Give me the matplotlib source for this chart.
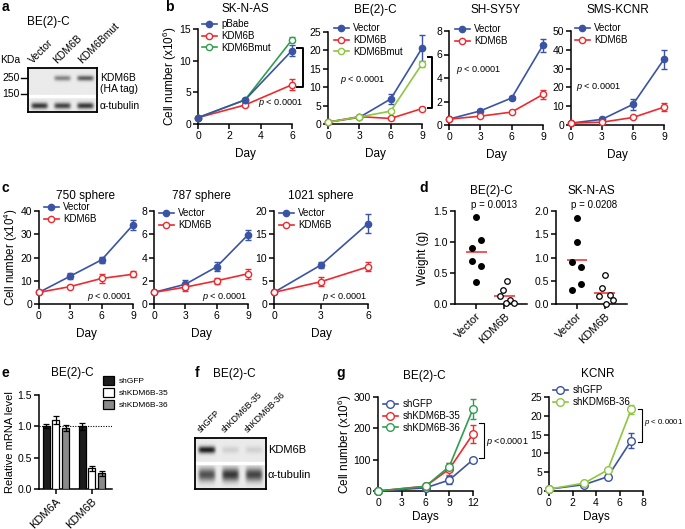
import matplotlib
matplotlib.use('Agg')
import matplotlib.pyplot as plt
import numpy as np
from matplotlib.ticker import FormatStrFormatter

plt.rcParams['font.family'] = ['Liberation Sans', 'DejaVu Sans']
plt.rcParams['mathtext.fontset'] = 'custom'
plt.rcParams['mathtext.rm'] = 'Liberation Sans'
plt.rcParams['mathtext.it'] = 'Liberation Sans:italic'
plt.rcParams['font.size'] = 7

W, H = 685, 529
BLUE = '#3a53a4'
RED = '#ee2a2e'
DKGREEN = '#2f9e4f'
LTGREEN = '#8dc63f'

# ---- panel a / f blots (band intensity per lane) ----
a_lanes = ['Vector', 'KDM6B', 'KDM6Bmut']
a_kdm6b_band = [0.0, 0.4, 0.55]
a_tubulin_band = [0.7, 0.65, 0.7]
f_lanes = ['shGFP', 'shKDM6B-35', 'shKDM6B-36']
f_kdm6b_band = [0.8, 0.1, 0.1]
f_tubulin_band = [0.6, 0.7, 0.65]

# ---- panel b ----
b1_day = [0, 3, 6]
b1_pbabe = [1.0, 3.8, 11.6]
b1_pbabe_err = [0.1, 0.2, 0.9]
b1_kdm6b = [1.0, 3.0, 6.2]
b1_kdm6b_err = [0.1, 0.2, 0.9]
b1_mut = [1.0, 3.8, 13.3]
b1_mut_err = [0.1, 0.2, 0.4]

b_day = [0, 3, 6, 9]
b2_vec = [0.5, 1.8, 6.8, 20.6]
b2_vec_err = [0.1, 0.3, 1.3, 3.6]
b2_kdm6b = [0.5, 2.0, 1.5, 4.2]
b2_kdm6b_err = [0.1, 0.2, 0.2, 0.3]
b2_mut = [0.5, 1.9, 3.5, 16.3]
b2_mut_err = [0.1, 0.2, 0.3, 0.9]

b3_vec = [0.5, 1.2, 2.3, 6.8]
b3_vec_err = [0.05, 0.08, 0.2, 0.55]
b3_kdm6b = [0.5, 0.75, 1.1, 2.6]
b3_kdm6b_err = [0.05, 0.05, 0.08, 0.35]

b4_vec = [1.0, 3.0, 11.0, 35.0]
b4_vec_err = [0.3, 0.5, 3.0, 5.0]
b4_kdm6b = [1.0, 1.5, 4.0, 9.5]
b4_kdm6b_err = [0.2, 0.3, 0.5, 2.0]

# ---- panel c ----
c_day = [0, 3, 6, 9]
c1_vec = [5, 12, 19, 34]
c1_vec_err = [0.3, 1.3, 1.3, 2.2]
c1_kdm6b = [5, 7.5, 11, 12.8]
c1_kdm6b_err = [0.3, 0.6, 1.8, 1.3]
c2_vec = [1.0, 1.7, 3.2, 5.95]
c2_vec_err = [0.05, 0.4, 0.4, 0.45]
c2_kdm6b = [1.0, 1.45, 2.0, 2.6]
c2_kdm6b_err = [0.05, 0.3, 0.25, 0.45]
c3_day = [0, 3, 6]
c3_vec = [2.5, 8.4, 17.3]
c3_vec_err = [0.2, 0.7, 2.0]
c3_kdm6b = [2.5, 4.8, 8.0]
c3_kdm6b_err = [0.2, 0.9, 1.0]

# ---- panel d (tumour weights) ----
d_groups = ['Vector', 'KDM6B']
d1_vec = [1.40, 1.03, 0.90, 0.69, 0.62, 0.35]
d1_kdm6b = [0.37, 0.23, 0.13, 0.07, 0.01, 0.01]
d2_vec = [1.86, 1.34, 0.91, 0.79, 0.43, 0.31]
d2_kdm6b = [0.62, 0.34, 0.18, 0.19, 0.09, 0.01]

# ---- panel e ----
e_genes = ['KDM6A', 'KDM6B']
e_shgfp = [1.0, 1.0]
e_shgfp_err = [0.03, 0.06]
e_sh35 = [1.1, 0.33]
e_sh35_err = [0.07, 0.04]
e_sh36 = [0.97, 0.25]
e_sh36_err = [0.05, 0.04]

# ---- panel g ----
g1_day = [0, 6, 9, 12]
g1_shgfp = [0, 10, 35, 100]
g1_shgfp_err = [2, 3, 12, 4]
g1_sh35 = [0, 15, 70, 182]
g1_sh35_err = [2, 3, 20, 30]
g1_sh36 = [0, 15, 78, 262]
g1_sh36_err = [2, 3, 12, 33]
g2_day = [0, 3, 5, 7]
g2_shgfp = [0.5, 1.7, 3.8, 13.4]
g2_shgfp_err = [0.1, 0.2, 0.5, 2.0]
g2_sh36 = [0.5, 2.1, 5.6, 21.7]
g2_sh36_err = [0.1, 0.2, 0.4, 1.2]

fig = plt.figure(figsize=(W / 100, H / 100), dpi=100)
fig.patch.set_facecolor('white')


def add_ax(l, t, r, b):
    return fig.add_axes([l / W, 1 - b / H, (r - l) / W, (b - t) / H])


def ftext(x, y, s, **kw):
    kw.setdefault('ha', 'center')
    kw.setdefault('va', 'center')
    return fig.text(x / W, 1 - y / H, s, **kw)


def style(ax):
    for s in ['top', 'right']:
        ax.spines[s].set_visible(False)
    for s in ['left', 'bottom']:
        ax.spines[s].set_linewidth(1.1)
    ax.tick_params(direction='out', length=3.5, width=1.1, labelsize=7.5, pad=1.5)


def growth(ax, x, y, err, color, filled, label):
    c = ax.errorbar(x, y, yerr=err, color=color, marker='o', ms=4.5,
                    mfc=color if filled else 'white', mec=color, mew=1,
                    lw=1.2, capsize=2.2, elinewidth=1, capthick=1,
                    label=label, zorder=3)
    for art in c.get_children():
        art.set_clip_on(False)
    return c


def leg(ax, conts, x, y):
    ax.legend(handles=[c[0] for c in conts], labels=[c.get_label() for c in conts],
              loc='upper left', bbox_to_anchor=(x / W, 1 - y / H),
              bbox_transform=fig.transFigure, frameon=False, borderpad=0,
              borderaxespad=0, fontsize=7, handlelength=1.5, handletextpad=0.5,
              labelspacing=0.2)


def bracket(ax, x, y0, y1, tick, lw):
    ax.plot([x - tick, x, x, x - tick], [y0, y0, y1, y1], color='black', lw=lw,
            clip_on=False)


def ptxt(x, y, ha='left', s=r'$\it{p}$ < 0.0001', size=6.6):
    ftext(x, y, s, ha=ha, fontsize=size)


def blot(ax, lanes_bands, sep):
    xs = np.linspace(0, 3, 300)
    ys = np.linspace(0, 1, 200)
    X, Y = np.meshgrid(xs, ys)
    img = np.full(X.shape, 0.92)
    for ints, cy, wy in lanes_bands:
        for i, a in enumerate(ints):
            img -= a * np.exp(-((X - (i + 0.5)) / 0.36) ** 6) * np.exp(-((Y - cy) / wy) ** 2)
    ax.imshow(img, cmap='gray', vmin=0, vmax=1, extent=(0, 3, 1, 0),
              aspect='auto', interpolation='bilinear')
    ax.axhspan(sep - 0.02, sep + 0.02, color='white')
    ax.set_xticks([])
    ax.set_yticks([])
    for s in ax.spines.values():
        s.set_linewidth(1.3)


# ================= panel a =================
ax = add_ax(28, 68, 97, 112)
blot(ax, [(a_kdm6b_band, 0.23, 0.06), (a_tubulin_band, 0.86, 0.07)], 0.64)
for i, name in enumerate(a_lanes):
    ftext(33 + i * 24.5, 64, name, ha='left', va='baseline', rotation=45,
          rotation_mode='anchor', fontsize=7.5)
ftext(10, 60, 'KDa', fontsize=7.5)
ftext(11, 78, '250', fontsize=7.5)
ftext(11, 94, '150', fontsize=7.5)
fig.add_artist(plt.Line2D([21 / W, 27 / W], [1 - 78 / H] * 2, color='k', lw=1))
fig.add_artist(plt.Line2D([21 / W, 27 / W], [1 - 94 / H] * 2, color='k', lw=1))
ftext(100, 78, 'KDM6B', ha='left', fontsize=7.5)
ftext(100, 89, '(HA tag)', ha='left', fontsize=7.5)
ftext(100, 106, 'α-tubulin', ha='left', fontsize=7.5)
ftext(48, 22, 'BE(2)-C', fontsize=8.5)

# ================= panel b =================
ax = add_ax(198, 29, 292, 124)
style(ax)
cs = [growth(ax, b1_day, b1_pbabe, b1_pbabe_err, BLUE, True, 'pBabe'),
      growth(ax, b1_day, b1_kdm6b, b1_kdm6b_err, RED, False, 'KDM6B'),
      growth(ax, b1_day, b1_mut, b1_mut_err, DKGREEN, False, 'KDM6Bmut')]
cs[0][0].set_zorder(4)
ax.set_xlim(0, 6)
ax.set_ylim(0, 15)
ax.set_xticks([0, 2, 4, 6])
ax.set_yticks([0, 5, 10, 15])
ax.set_xlabel('Day', fontsize=8.5, labelpad=5)
ax.set_ylabel('Cell number (x10$^6$)', fontsize=8.5, labelpad=0)
ax.set_title('SK-N-AS', fontsize=8.5, pad=12)
leg(ax, cs, 202, 19)
bracket(ax, 6.7, 12.0, 5.8, 0.38, 1.4)
ptxt(303, 103, ha='right')

ax = add_ax(328, 32, 422, 124)
style(ax)
cs = [growth(ax, b_day, b2_vec, b2_vec_err, BLUE, True, 'Vector'),
      growth(ax, b_day, b2_kdm6b, b2_kdm6b_err, RED, False, 'KDM6B'),
      growth(ax, b_day, b2_mut, b2_mut_err, LTGREEN, False, 'KDM6Bmut')]
ax.set_xlim(0, 9)
ax.set_ylim(0, 25)
ax.set_xticks([0, 3, 6, 9])
ax.set_yticks([0, 5, 10, 15, 20, 25])
ax.set_xlabel('Day', fontsize=8.5, labelpad=5)
ax.set_title('BE(2)-C', fontsize=8.5, pad=14)
leg(ax, cs, 334, 23)
bracket(ax, 9.95, 18.2, 4.3, 0.4, 1.4)
ptxt(340, 80)

ax = add_ax(449, 31, 543, 125)
style(ax)
cs = [growth(ax, b_day, b3_vec, b3_vec_err, BLUE, True, 'Vector'),
      growth(ax, b_day, b3_kdm6b, b3_kdm6b_err, RED, False, 'KDM6B')]
ax.set_xlim(0, 9)
ax.set_ylim(0, 8)
ax.set_xticks([0, 3, 6, 9])
ax.set_yticks([0, 2, 4, 6, 8])
ax.set_xlabel('Day', fontsize=8.5, labelpad=5)
ax.set_title('SH-SY5Y', fontsize=8.5, pad=13)
leg(ax, cs, 455, 24)
ptxt(456, 70)

ax = add_ax(571, 31, 664, 125)
style(ax)
cs = [growth(ax, b_day, b4_vec, b4_vec_err, BLUE, True, 'Vector'),
      growth(ax, b_day, b4_kdm6b, b4_kdm6b_err, RED, False, 'KDM6B')]
ax.set_xlim(0, 9)
ax.set_ylim(0, 50)
ax.set_xticks([0, 3, 6, 9])
ax.set_yticks([0, 10, 20, 30, 40, 50])
ax.set_xlabel('Day', fontsize=8.5, labelpad=5)
ax.set_title('SMS-KCNR', fontsize=8.5, pad=13)
leg(ax, cs, 575, 23)
ptxt(576, 87)

# ================= panel c =================
c_specs = [((39, 211, 133, 304), c_day, c1_vec, c1_vec_err, c1_kdm6b, c1_kdm6b_err,
            40, [0, 10, 20, 30, 40], '750 sphere', (44, 202), 132),
           ((154, 211, 248, 304), c_day, c2_vec, c2_vec_err, c2_kdm6b, c2_kdm6b_err,
            8, [0, 2, 4, 6, 8], '787 sphere', (159, 208), 247),
           ((274, 211, 368, 304), c3_day, c3_vec, c3_vec_err, c3_kdm6b, c3_kdm6b_err,
            20, [0, 5, 10, 15, 20], '1021 sphere', (279, 208), 367)]
for i, (box, day, v, ve, k, ke, ymax, yt, title, lp, pr) in enumerate(c_specs):
    ax = add_ax(*box)
    style(ax)
    cs = [growth(ax, day, v, ve, BLUE, True, 'Vector'),
          growth(ax, day, k, ke, RED, False, 'KDM6B')]
    ax.set_xlim(0, day[-1])
    ax.set_ylim(0, ymax)
    ax.set_xticks(day)
    ax.set_yticks(yt)
    ax.set_xlabel('Day', fontsize=8.5, labelpad=5)
    ax.set_title(title, fontsize=8.5, pad=9)
    if i == 0:
        ax.set_ylabel('Cell number (x10$^4$)', fontsize=8.3, labelpad=0)
    leg(ax, cs, *lp)
    ptxt(pr, 297, ha='right')

# ================= panel d =================
d_jitter = [[0, 0.17, -0.14, -0.14, 0.17, 0], [0.1, -0.05, -0.14, 0.21, 0.06, 0.33]]
d2_jitter = [[0, 0, -0.17, 0.15, 0.15, -0.17], [0.02, -0.1, -0.19, 0.18, 0.29, 0.05]]
d_specs = [((455, 211, 527, 304), d1_vec, d1_kdm6b, d_jitter, 1.5, [0, 0.5, 1.0, 1.5],
            'BE(2)-C', 'p = 0.0013'),
           ((556, 211, 627, 304), d2_vec, d2_kdm6b, d2_jitter, 2.0,
            [0, 0.5, 1.0, 1.5, 2.0], 'SK-N-AS', 'p = 0.0208')]
for i, (box, vec, kdm, jit, ymax, yt, title, ptext) in enumerate(d_specs):
    ax = add_ax(*box)
    style(ax)
    ax.scatter(np.array(jit[0]), vec, s=16, color='black', zorder=3, clip_on=False)
    ax.scatter(np.array(jit[1]) + 1, kdm, s=16, facecolor='white', edgecolor='black',
               linewidth=0.9, zorder=3, clip_on=False)
    ax.hlines([np.mean(vec), np.mean(kdm)], [-0.37, 0.63], [0.37, 1.37], color=RED,
              lw=1.1, zorder=2)
    ax.set_xlim(-0.75, 1.8)
    ax.set_ylim(0, ymax)
    ax.set_yticks(yt)
    ax.yaxis.set_major_formatter(FormatStrFormatter('%.1f'))
    ax.set_xticks([0, 1])
    ax.set_xticklabels(d_groups, rotation=45, ha='right', rotation_mode='anchor',
                       fontsize=8)
    ax.set_title(title, fontsize=8.5, pad=12)
    ftext((box[0] + box[2]) / 2 + 3, 205, ptext, fontsize=7)
    if i == 0:
        ax.set_ylabel('Weight (g)', fontsize=8.5, labelpad=3)

# ================= panel e =================
ax = add_ax(39, 395, 112, 489)
style(ax)
xg = np.arange(len(e_genes))
bw = 0.2
kw = dict(width=bw, capsize=2, error_kw=dict(elinewidth=0.9, capthick=0.9), linewidth=0.9,
          edgecolor='black', zorder=3)
ax.bar(xg - 0.27, e_shgfp, yerr=e_shgfp_err, color='#1c1c1c', label='shGFP', **kw)
ax.bar(xg, e_sh35, yerr=e_sh35_err, color='white', label='shKDM6B-35', **kw)
ax.bar(xg + 0.27, e_sh36, yerr=e_sh36_err, color='#8a8a8a', label='shKDM6B-36', **kw)
ax.axhline(1.0, color='black', ls=(0, (1, 1.3)), lw=0.8, zorder=1)
ax.set_xlim(-0.47, 1.56)
ax.set_ylim(0, 1.5)
ax.set_yticks([0, 0.5, 1.0, 1.5])
ax.yaxis.set_major_formatter(FormatStrFormatter('%.1f'))
ax.set_xticks(xg)
ax.set_xticklabels(e_genes, rotation=45, ha='right', rotation_mode='anchor', fontsize=8)
ax.set_ylabel('Relative mRNA level', fontsize=8, labelpad=2)
ftext(72, 373, 'BE(2)-C', fontsize=8.5)
ax.legend(loc='upper left', bbox_to_anchor=(103 / W, 1 - 376 / H),
          bbox_transform=fig.transFigure, frameon=False, borderpad=0, borderaxespad=0,
          fontsize=6, handlelength=1.3, handleheight=1.2, handletextpad=0.6,
          labelspacing=0.35)

# ================= panel f =================
ax = add_ax(195, 438, 266, 489)
blot(ax, [(f_kdm6b_band, 0.23, 0.07), (f_tubulin_band, 0.72, 0.13)], 0.49)
for i, name in enumerate(f_lanes):
    ftext(201 + i * 23.5, 433, name, ha='left', va='baseline', rotation=45,
          rotation_mode='anchor', fontsize=6.5)
ftext(268, 450, 'KDM6B', ha='left', fontsize=8)
ftext(268, 475, 'α-tubulin', ha='left', fontsize=8)
ftext(234, 374, 'BE(2)-C', fontsize=8.5)

# ================= panel g =================
ax = add_ax(378, 397, 473, 491)
style(ax)
cs = [growth(ax, g1_day, g1_shgfp, g1_shgfp_err, BLUE, False, 'shGFP'),
      growth(ax, g1_day, g1_sh35, g1_sh35_err, RED, False, 'shKDM6B-35'),
      growth(ax, g1_day, g1_sh36, g1_sh36_err, DKGREEN, False, 'shKDM6B-36')]
for c in cs:
    c[0].set_markersize(5.5)
ax.set_xlim(0, 12)
ax.set_ylim(0, 300)
ax.set_xticks([0, 3, 6, 9, 12])
ax.set_yticks([0, 100, 200, 300])
ax.set_xlabel('Days', fontsize=8.5, labelpad=2)
ax.set_ylabel('Cell number (x10$^6$)', fontsize=8.5, labelpad=0)
leg(ax, cs, 383, 399)
bracket(ax, 13.4, 217, 105, 0.6, 0.8)
ptxt(486, 442, s=r'$\it{p}$ <0.0001')
ftext(424, 376, 'BE(2)-C', fontsize=8.5)

ax = add_ax(549, 397, 643, 491)
style(ax)
cs = [growth(ax, g2_day, g2_shgfp, g2_shgfp_err, BLUE, False, 'shGFP'),
      growth(ax, g2_day, g2_sh36, g2_sh36_err, LTGREEN, False, 'shKDM6B-36')]
for c in cs:
    c[0].set_markersize(5.5)
ax.set_xlim(0, 8)
ax.set_ylim(0, 25)
ax.set_xticks([0, 2, 4, 6, 8])
ax.set_yticks([0, 5, 10, 15, 20, 25])
ax.set_xlabel('Days', fontsize=8.5, labelpad=2)
leg(ax, cs, 553, 385)
bracket(ax, 7.95, 21.8, 13.0, 0.4, 0.8)
ptxt(644, 423, size=5.7)
ftext(598, 374, 'KCNR', fontsize=8.5)

# panel letters
for x, y, s in [(5, 7, 'a'), (169, 7, 'b'), (5, 188, 'c'), (424, 188, 'd'),
                (5, 373, 'e'), (197, 373, 'f'), (341, 373, 'g')]:
    ftext(x, y, s, fontsize=10, fontweight='bold')

fig.savefig('out.png', dpi=100, facecolor='white')
